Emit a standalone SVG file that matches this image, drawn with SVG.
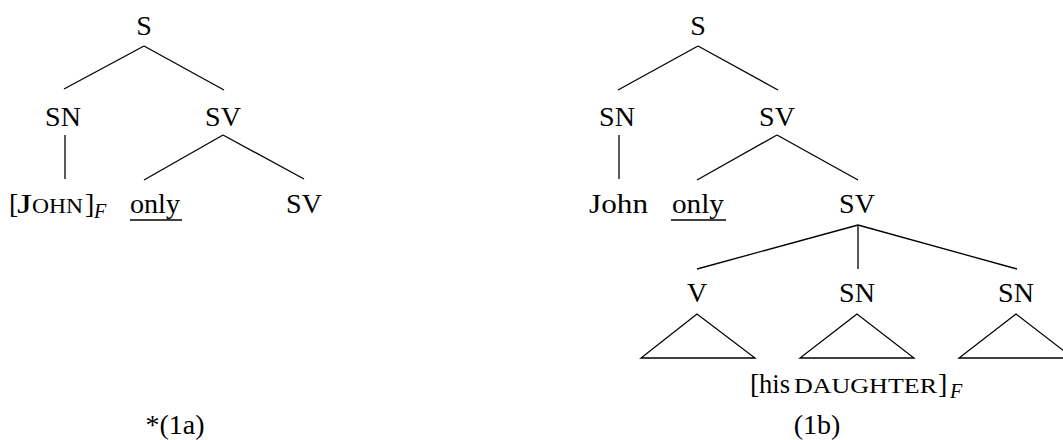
<svg xmlns="http://www.w3.org/2000/svg" width="1063" height="440" viewBox="0 0 1063 440">
<style>
text{font-family:"Liberation Serif","Times New Roman",serif;font-size:28px;fill:#000}
.c{text-anchor:middle}
.sc{font-size:21px}
.sub{font-size:20px;font-style:italic}
line,polygon{stroke:#000;stroke-width:1.3;fill:none}
</style>
<rect width="1063" height="440" fill="#fff"/>
<g id="connectors">
<line x1="144" y1="46" x2="64" y2="89"/>
<line x1="144" y1="46" x2="224" y2="90"/>
<line x1="65" y1="135" x2="65" y2="179"/>
<line x1="223" y1="135" x2="144" y2="180"/>
<line x1="223" y1="135" x2="304" y2="179"/>
<line x1="698" y1="46" x2="618" y2="90"/>
<line x1="698" y1="46" x2="778" y2="90"/>
<line x1="619" y1="135" x2="619" y2="179"/>
<line x1="777" y1="135" x2="697" y2="180"/>
<line x1="777" y1="135" x2="858" y2="180"/>
<line x1="858" y1="225" x2="697" y2="269"/>
<line x1="858" y1="225" x2="858" y2="269"/>
<line x1="858" y1="225" x2="1017" y2="269"/>
</g>
<g id="a-S"><text class="c" x="144" y="35">S</text></g>
<g id="a-SN"><text class="c" x="63" y="126">SN</text></g>
<g id="a-SV"><text class="c" x="223" y="126">SV</text></g>
<g id="a-john">
<text x="9" y="213">[</text>
<text x="17" y="213" textLength="15" lengthAdjust="spacingAndGlyphs">J</text>
<text class="sc" x="32" y="213" textLength="51" lengthAdjust="spacingAndGlyphs">OHN</text>
<text x="85" y="213">]</text>
<text class="sub" x="94" y="218">F</text>
</g>
<g id="a-only"><text x="130" y="213" textLength="50" lengthAdjust="spacingAndGlyphs">only</text><line x1="130" y1="220" x2="182" y2="220"/></g>
<g id="a-SV2"><text class="c" x="304" y="213">SV</text></g>
<g id="a-label"><text class="c" x="175" y="434">*(1a)</text></g>

<g id="b-S"><text class="c" x="698" y="35">S</text></g>
<g id="b-SN"><text class="c" x="617" y="126">SN</text></g>
<g id="b-SV"><text class="c" x="777" y="126">SV</text></g>
<g id="b-john"><text x="589" y="213" textLength="59" lengthAdjust="spacingAndGlyphs">John</text></g>
<g id="b-only"><text x="672" y="213" textLength="52" lengthAdjust="spacingAndGlyphs">only</text><line x1="671" y1="220" x2="726" y2="220"/></g>
<g id="b-SV2"><text class="c" x="857" y="213">SV</text></g>
<g id="b-V"><text class="c" x="697" y="302">V</text><polygon points="697,314 641,358 755,358"/></g>
<g id="b-SN2"><text class="c" x="857" y="302">SN</text><polygon points="857,314 800,358 914,358"/>
<text x="750" y="393">[</text>
<text x="759" y="393" textLength="31" lengthAdjust="spacingAndGlyphs">his</text>
<text class="sc" x="794" y="393" textLength="143" lengthAdjust="spacingAndGlyphs">DAUGHTER</text>
<text x="938" y="393">]</text>
<text class="sub" x="950" y="398">F</text>
</g>
<g id="b-SN3"><text class="c" x="1016" y="302">SN</text><polygon points="1016,314 959,358 1073,358"/></g>
<g id="b-label"><text class="c" x="817" y="434">(1b)</text></g>
</svg>
